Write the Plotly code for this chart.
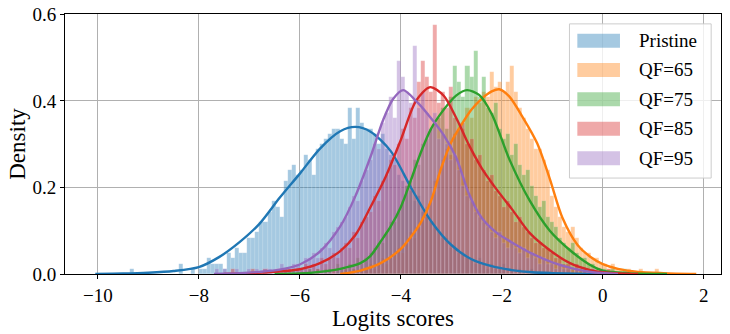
import plotly.graph_objects as go

# common histogram bins (seaborn common_bins)
bin_start = -9.36
bin_width = 0.08

labels = ["Pristine", "QF=65", "QF=75", "QF=85", "QF=95"]
colors = ["31,119,180", "255,127,14", "44,160,44", "214,39,40", "148,103,189"]

# index of the first bin of each series, then the densities bin by bin
pristine_first = 0
pristine_hist = [
    0.012, 0, 0, 0, 0, 0, 0, 0, 0, 0,
    0, 0, 0.024, 0, 0, 0.012, 0, 0.012, 0.012, 0.036,
    0.024, 0.024, 0.024, 0.012, 0.048, 0.036, 0.06, 0.048, 0.048, 0.084,
    0.084, 0.096, 0.12, 0.12, 0.144, 0.168, 0.156, 0.132, 0.216, 0.24,
    0.252, 0.228, 0.24, 0.276, 0.264, 0.228, 0.288, 0.3, 0.312, 0.324,
    0.336, 0.336, 0.312, 0.3, 0.384, 0.312, 0.384, 0.348, 0.336, 0.336,
    0.324, 0.3, 0.324, 0.288, 0.276, 0.264, 0.228, 0.216, 0.204, 0.192,
    0.168, 0.18, 0.144, 0.132, 0.12, 0.108, 0.096, 0.084, 0.084, 0.06,
    0.06, 0.048, 0.048, 0.036, 0.036, 0.024, 0.036, 0.024, 0.012, 0.024,
    0.012, 0.012, 0.024, 0, 0.012, 0, 0.012, 0, 0, 0.012,
]

qf65_first = 46
qf65_hist = [
    0.012, 0, 0, 0, 0.012, 0, 0, 0.012, 0, 0.012,
    0, 0.012, 0.012, 0.024, 0.012, 0.024, 0.036, 0.024, 0.036, 0.048,
    0.06, 0.048, 0.072, 0.096, 0.084, 0.108, 0.132, 0.156, 0.168, 0.216,
    0.228, 0.264, 0.288, 0.276, 0.324, 0.348, 0.336, 0.384, 0.36, 0.408,
    0.396, 0.42, 0.408, 0.468, 0.432, 0.444, 0.42, 0.444, 0.48, 0.42,
    0.384, 0.36, 0.336, 0.312, 0.288, 0.288, 0.264, 0.24, 0.18, 0.156,
    0.132, 0.108, 0.096, 0.108, 0.084, 0.06, 0.048, 0.048, 0.036, 0.036,
    0.024, 0.024, 0.012, 0.024, 0.012, 0.012, 0, 0.012, 0, 0,
    0.012, 0, 0, 0, 0.012,
]

qf75_first = 40
qf75_hist = [
    0.012, 0, 0, 0, 0.012, 0, 0.012, 0, 0.012, 0.012,
    0, 0.024, 0.012, 0.012, 0.024, 0.012, 0.036, 0.024, 0.036, 0.048,
    0.06, 0.072, 0.072, 0.096, 0.12, 0.12, 0.144, 0.168, 0.204, 0.216,
    0.264, 0.252, 0.3, 0.312, 0.336, 0.348, 0.36, 0.384, 0.336, 0.408,
    0.48, 0.444, 0.408, 0.48, 0.456, 0.516, 0.408, 0.456, 0.384, 0.372,
    0.396, 0.336, 0.312, 0.324, 0.276, 0.3, 0.252, 0.228, 0.24, 0.204,
    0.18, 0.156, 0.168, 0.132, 0.12, 0.108, 0.084, 0.072, 0.06, 0.072,
    0.048, 0.036, 0.036, 0.024, 0.024, 0.012, 0.012, 0.012, 0, 0.012,
    0, 0, 0.012,
]

qf85_first = 25
qf85_hist = [
    0.012, 0, 0, 0, 0, 0.012, 0, 0, 0.012, 0,
    0, 0.012, 0, 0.012, 0.012, 0, 0.012, 0.012, 0.024, 0.012,
    0.024, 0.012, 0.036, 0.024, 0.036, 0.048, 0.036, 0.06, 0.072, 0.06,
    0.096, 0.084, 0.12, 0.132, 0.144, 0.18, 0.168, 0.216, 0.228, 0.264,
    0.252, 0.3, 0.336, 0.312, 0.384, 0.36, 0.444, 0.492, 0.456, 0.42,
    0.576, 0.396, 0.42, 0.384, 0.432, 0.36, 0.336, 0.348, 0.3, 0.312,
    0.264, 0.276, 0.24, 0.216, 0.228, 0.192, 0.18, 0.156, 0.168, 0.144,
    0.12, 0.132, 0.108, 0.096, 0.084, 0.072, 0.072, 0.06, 0.06, 0.048,
    0.036, 0.036, 0.024, 0.024, 0.012, 0.024, 0.012, 0.012, 0, 0.012,
    0, 0.012, 0, 0.012,
]

qf95_first = 21
qf95_hist = [
    0.012, 0, 0.012, 0, 0, 0.012, 0, 0, 0.012, 0,
    0.012, 0, 0.012, 0.012, 0, 0.012, 0.024, 0.012, 0.012, 0.024,
    0.024, 0.012, 0.036, 0.036, 0.048, 0.036, 0.06, 0.072, 0.06, 0.096,
    0.108, 0.12, 0.132, 0.156, 0.18, 0.168, 0.216, 0.24, 0.264, 0.3,
    0.288, 0.348, 0.372, 0.408, 0.36, 0.492, 0.456, 0.42, 0.396, 0.528,
    0.384, 0.42, 0.372, 0.336, 0.372, 0.312, 0.324, 0.3, 0.264, 0.276,
    0.24, 0.204, 0.18, 0.168, 0.144, 0.132, 0.12, 0.108, 0.096, 0.084,
    0.096, 0.072, 0.06, 0.072, 0.06, 0.048, 0.06, 0.036, 0.048, 0.036,
    0.024, 0.036, 0.024, 0.024, 0.012, 0.024, 0.012, 0.012, 0, 0.012,
    0, 0.012, 0, 0.012,
]

# kde curves
pristine_kde_x = [-10.05, -9.5, -9.0, -8.5, -8.0, -7.6, -7.2, -6.8, -6.4, -6.0, -5.6, -5.2, -4.9,
                  -4.6, -4.2, -3.8, -3.4, -3.0, -2.6, -2.2, -1.8, -1.4, -1.0, -0.5, 0.0]
pristine_kde_y = [0.0, 0.001, 0.003, 0.007, 0.016, 0.039, 0.073, 0.116, 0.176, 0.232, 0.29, 0.33, 0.34,
                  0.329, 0.284, 0.2, 0.122, 0.067, 0.034, 0.018, 0.009, 0.004, 0.002, 0.0005, 0.0]
qf65_kde_x = [-5.2, -4.8, -4.4, -4.0, -3.8, -3.6, -3.4, -3.2, -3.0, -2.8, -2.6, -2.4, -2.2, -2.05,
              -1.85, -1.6, -1.3, -1.05, -0.8, -0.5, -0.25, 0.0, 0.3, 0.7, 1.2, 1.85]
qf65_kde_y = [0.0, 0.008, 0.025, 0.058, 0.086, 0.12, 0.17, 0.245, 0.305, 0.345, 0.38, 0.405, 0.422, 0.427,
              0.41, 0.365, 0.302, 0.22, 0.13, 0.067, 0.04, 0.023, 0.012, 0.005, 0.002, 0.0]
qf75_kde_x = [-6.5, -6.0, -5.6, -5.2, -4.8, -4.6, -4.4, -4.2, -4.0, -3.8, -3.6, -3.4, -3.15, -2.9,
              -2.69, -2.45, -2.2, -1.85, -1.45, -1.05, -0.65, -0.25, 0.0, 0.5, 1.27]
qf75_kde_y = [0.0, 0.001, 0.005, 0.012, 0.025, 0.042, 0.075, 0.11, 0.155, 0.217, 0.282, 0.336, 0.38, 0.413,
              0.425, 0.414, 0.37, 0.265, 0.17, 0.1, 0.055, 0.021, 0.008, 0.002, 0.0]
qf85_kde_x = [-7.5, -7.0, -6.5, -6.0, -5.6, -5.2, -4.9, -4.6, -4.3, -4.0, -3.7, -3.42, -3.15, -2.9,
              -2.65, -2.4, -2.1, -1.8, -1.45, -1.05, -0.65, -0.25, 0.1, 0.7]
qf85_kde_y = [0.0, 0.002, 0.005, 0.011, 0.025, 0.053, 0.09, 0.155, 0.225, 0.31, 0.4, 0.432, 0.412, 0.36,
              0.298, 0.245, 0.195, 0.15, 0.095, 0.055, 0.025, 0.009, 0.003, 0.0]
qf95_kde_x = [-7.7, -7.2, -6.8, -6.4, -6.0, -5.6, -5.2, -4.9, -4.6, -4.35, -4.15, -3.95, -3.7, -3.45,
              -3.15, -2.9, -2.65, -2.4, -2.1, -1.8, -1.4, -1.0, -0.6, -0.2, 0.3]
qf95_kde_y = [0.0, 0.002, 0.005, 0.01, 0.022, 0.052, 0.11, 0.18, 0.271, 0.356, 0.405, 0.425, 0.4, 0.367,
              0.321, 0.268, 0.185, 0.13, 0.095, 0.073, 0.047, 0.027, 0.013, 0.004, 0.0]

x_ticks = [-10, -8, -6, -4, -2, 0, 2]
y_ticks = [0.0, 0.2, 0.4, 0.6]

hists = [(pristine_first, pristine_hist), (qf65_first, qf65_hist), (qf75_first, qf75_hist),
         (qf85_first, qf85_hist), (qf95_first, qf95_hist)]
kdes = [(pristine_kde_x, pristine_kde_y), (qf65_kde_x, qf65_kde_y), (qf75_kde_x, qf75_kde_y),
        (qf85_kde_x, qf85_kde_y), (qf95_kde_x, qf95_kde_y)]

FONT = "Liberation Serif"

fig = go.Figure()

for (first, heights), rgb, name in zip(hists, colors, labels):
    centers = [bin_start + bin_width * (first + k + 0.5) for k in range(len(heights))]
    fig.add_trace(go.Bar(
        x=centers, y=heights, width=bin_width, name=name,
        marker=dict(color=f"rgba({rgb},0.4)", line=dict(width=0.4, color="rgba(255,255,255,0.3)")),
        showlegend=False,
    ))

for (kx, ky), rgb in zip(kdes, colors):
    fig.add_trace(go.Scatter(
        x=kx, y=ky, mode="lines", line=dict(color=f"rgb({rgb})", width=2.4, shape="spline", smoothing=0.8),
        showlegend=False,
    ))

# legend drawn by hand so the patches are wide like matplotlib's
shapes = [dict(type="rect", xref="paper", yref="paper", x0=0.769, x1=0.985, y0=0.369, y1=0.962,
               fillcolor="rgba(255,255,255,0.8)", line=dict(color="#cccccc", width=1), layer="above")]
annotations = []
row_y = [0.897, 0.785, 0.672, 0.559, 0.445]
for ry, rgb, name in zip(row_y, colors, labels):
    shapes.append(dict(type="rect", xref="paper", yref="paper", x0=0.781, x1=0.846,
                       y0=ry - 0.027, y1=ry + 0.027, fillcolor=f"rgba({rgb},0.4)",
                       line=dict(width=0), layer="above"))
    annotations.append(dict(xref="paper", yref="paper", x=0.872, y=ry, text=name, showarrow=False,
                            xanchor="left", yanchor="middle", font=dict(family=FONT, size=19, color="black")))

fig.update_layout(
    width=730, height=334,
    margin=dict(l=65, r=9, t=14, b=60),
    barmode="overlay", bargap=0,
    plot_bgcolor="white", paper_bgcolor="white",
    font=dict(family=FONT, size=19, color="black"),
    shapes=shapes, annotations=annotations,
)
fig.update_xaxes(
    range=[-10.65, 2.34], tickvals=x_ticks,
    ticktext=[str(v).replace("-", "\u2212") for v in x_ticks],
    showline=True, mirror=True, linecolor="black", linewidth=1,
    ticks="outside", ticklen=4, tickcolor="black",
    showgrid=True, gridcolor="#b0b0b0", gridwidth=1, zeroline=False,
    automargin=False,
    title=dict(text="Logits scores", standoff=0),
)
fig.update_yaxes(
    range=[0, 0.601], tickvals=y_ticks, ticktext=[f"{v:.1f}" for v in y_ticks],
    showline=True, mirror=True, linecolor="black", linewidth=1,
    ticks="outside", ticklen=4, tickcolor="black",
    showgrid=True, gridcolor="#b0b0b0", gridwidth=1, zeroline=False,
    automargin=False,
    title=dict(text="Density", standoff=0),
)

# drop the page's default body margin so the figure sits at the window corner
fig.write_html("out.html", config={"displayModeBar": False},
               post_script="document.body.style.margin='0';")
